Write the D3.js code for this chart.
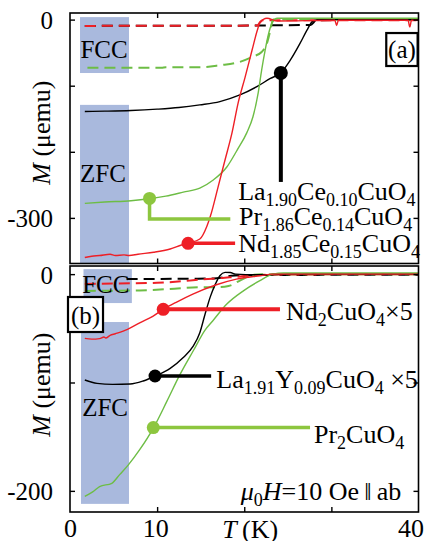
<!DOCTYPE html>
<html>
<head>
<meta charset="utf-8">
<script src="https://cdn.jsdelivr.net/npm/d3@7"></script>
<style>
  body { margin: 0; background: #fff; }
  text { font-family: "Liberation Serif", "Times New Roman", serif; fill: #000; }
</style>
</head>
<body>
<div id="chartPlaceholder"></div>
<script>
// ---- data: [T (K), M (uemu)] ----
// panel (a) : Ce-doped superconductors
const lcceZfc = [[1.7,-139],[4,-138.5],[7,-137.5],[10,-135.5],[12.5,-133],[14.9,-129],[17.2,-124],[19.5,-114],[21.5,-101],[23,-89],[24.2,-80.5],[25.3,-61],[26.4,-36],[27.2,-16],[27.8,-3],[28.4,0],[40,0]];
const lcceFc = [[1.7,-9.5],[21.5,-9],[24,-8.5],[27.6,-8],[28.3,-1],[40,0]];
const pcceZfc = [[1.7,-278],[4,-276],[7,-274],[9.1,-271],[11,-267],[13,-261],[14.9,-255],[16.4,-243],[18,-223],[19.2,-197],[20.3,-171],[21,-147],[21.6,-111],[22,-76],[22.4,-46],[22.8,-21],[23.2,-5],[23.8,2],[40,2]];
const pcceFc = [[2,-73],[10.5,-73],[11,-72],[14.9,-72],[17.2,-69],[19.5,-64],[21,-56],[22,-49],[22.6,-36],[23,-16],[23.3,0],[40,0]];
const ncceZfc = [[1.7,-360],[2.5,-358],[3.4,-357],[4.6,-355],[5.2,-357],[6.2,-356],[6.8,-357],[7.8,-355],[9.6,-352],[11.5,-347],[12.8,-341],[13.6,-338],[14.9,-332],[15.7,-313],[16.1,-298],[17,-253],[17.8,-212],[18.6,-171],[19.3,-126],[20.1,-87],[20.9,-46],[21.5,-16],[21.8,-5],[22.6,2],[23.8,-2],[30.4,-1],[30.6,-9],[30.8,-1],[38.8,-1],[39,-11],[39.2,-1],[40,-1]];
const ncceFc = [[1.7,-9.5],[21.5,-9],[21.8,-4],[22.1,-1],[40,-1]];

// panel (b) : parent compounds
const ncoZfc = [[1.7,-59.3],[2.5,-60],[3.4,-59.5],[3.9,-58],[4.1,-59],[4.6,-56.5],[5.2,-55],[6.6,-51],[8,-45],[9.5,-39],[10.7,-32.5],[12.3,-25.5],[14.1,-18.4],[16.8,-9.8],[19.1,-4.6],[21.8,-1.5],[23.3,0],[40,0]];
const ncoFc = [[1.7,-9],[7,-8.5],[10,-8],[13,-6.5],[15,-5],[17.5,-3.5],[19,-2.5],[22.6,-0.5],[40,0]];
const lycoZfc = [[1.7,-97.7],[3.1,-100.8],[4.9,-101.7],[6.9,-101.4],[8.4,-98.6],[9.8,-94],[11.5,-87],[13,-77],[14.1,-67],[14.9,-54],[15.5,-37],[16.1,-21],[16.7,-9],[17.2,-1.5],[17.8,1.6],[18.4,1.5],[19,0],[22,-0.6],[25,0],[40,0]];
const lycoFc = [[6.5,-4.6],[12,-4.3],[16.5,-4],[17.5,-3],[18.5,-1.5],[20,-1],[40,-0.5]];
const pcoZfc = [[1.7,-205],[2.6,-201],[3.4,-196],[4.8,-193],[5.7,-185],[6.7,-176],[8,-162],[9.6,-141.6],[11.1,-117.7],[12.6,-93],[14.2,-70],[15.5,-51.6],[16.4,-43],[18,-27.6],[19.9,-15.4],[21.8,-6],[23.3,0],[24.5,1],[40,1]];
const pcoFc = [[1.7,-15.5],[8,-15],[12,-13.5],[15,-12],[17,-12],[18.2,-11],[19.5,-6],[20.7,-1.5],[22,0],[40,0]];

// ticks
const tTicks = [10, 20, 30];
const tTickLabels = [0, 10, 40];
const mTicksA = [0, -100, -200, -300];
const mLabelsA = [0, -300];
const mTicksB = [0, -100, -200];
const mLabelsB = [0, -200];

const RED = "#ee1f26", GREEN = "#6dbd45", GREEN_MARK = "#8dc63f", BLUE = "#a9b9dd";

const svg = d3.select("#chartPlaceholder").append("svg")
  .attr("width", 426).attr("height", 541);

const x = d3.scaleLinear().domain([0, 40]).range([70, 418.5]);
const yA = d3.scaleLinear().domain([-369, 10]).range([263.5, 13]);
const yB = d3.scaleLinear().domain([-219.5, 7.5]).range([512, 266]);

const line = (y) => d3.line().x((d) => x(d[0])).y((d) => y(d[1])).curve(d3.curveMonotoneX);

// chemical formula: parts alternate normal | subscript
function formula(sel, parts) {
  parts.split("|").forEach((p, i) => {
    if (i % 2 === 1) {
      sel.append("tspan").attr("font-size", 18).attr("dy", 6).text(p);
    } else {
      sel.append("tspan").attr("dy", i === 0 ? 0 : -6).text(p);
    }
  });
}

function panel(y, cfg) {
  const g = svg.append("g");
  const [t0, t1] = x.domain();
  const [m0, m1] = y.domain();

  // shaded FCC / ZFC bands
  cfg.bands.forEach((b) => {
    g.append("rect")
      .attr("x", x(b.t[0])).attr("width", x(b.t[1]) - x(b.t[0]))
      .attr("y", y(b.m[0])).attr("height", y(b.m[1]) - y(b.m[0]))
      .attr("fill", BLUE);
  });

  // curves
  cfg.curves.forEach((c) => {
    g.append("path").datum(c.data)
      .attr("d", line(y))
      .attr("fill", "none")
      .attr("stroke", c.color)
      .attr("stroke-width", c.dashed ? 2 : 1.4)
      .attr("stroke-dasharray", c.dashed ? "11,6" : null);
  });

  cfg.bands.forEach((b) => {
    g.append("text").attr("x", x(b.textT)).attr("y", y(b.textM))
      .attr("font-size", 25).text(b.label);
  });

  // legend leaders
  cfg.legend.forEach((l) => {
    g.append("path").datum(l.path)
      .attr("d", d3.line().x((d) => x(d[0])).y((d) => y(d[1])))
      .attr("fill", "none").attr("stroke", l.color).attr("stroke-width", l.width || 3.5);
    g.append("circle").attr("cx", x(l.path[0][0])).attr("cy", y(l.path[0][1]))
      .attr("r", l.r || 6.5).attr("fill", l.color);
    const t = g.append("text").attr("x", x(l.label[0])).attr("y", y(l.label[1]))
      .attr("font-size", 26);
    formula(t, l.name);
  });

  // frame
  g.append("rect")
    .attr("x", x(t0)).attr("y", y(m1))
    .attr("width", x(t1) - x(t0)).attr("height", y(m0) - y(m1))
    .attr("fill", "none").attr("stroke", "#000").attr("stroke-width", 1.6);

  // inward ticks on all four sides
  const tk = (axis, tx, ty) => {
    g.append("g").attr("transform", `translate(${tx},${ty})`)
      .call(axis.tickSize(5).tickFormat(""))
      .call((s) => s.select(".domain").remove())
      .selectAll("line").attr("stroke-width", 1.4);
  };
  tk(d3.axisRight(y).tickValues(cfg.mTicks), x(t0), 0);
  tk(d3.axisLeft(y).tickValues(cfg.mTicks), x(t1), 0);
  tk(d3.axisBottom(x).tickValues(tTicks), 0, y(m1));
  tk(d3.axisTop(x).tickValues(tTicks), 0, y(m0));

  // tick labels
  g.append("g").attr("transform", `translate(${x(t0)},0)`)
    .call(d3.axisLeft(y).tickValues(cfg.mLabels).tickSize(0).tickPadding(17).tickFormat((d) => String(d)))
    .call((s) => s.select(".domain").remove())
    .selectAll("text").attr("font-size", 25).attr("font-family", null).attr("dy", "0.36em");

  // y label
  const yl = g.append("text")
    .attr("transform", `translate(50,${y(cfg.labelM)}) rotate(-90)`)
    .attr("text-anchor", "middle").attr("font-size", 26);
  yl.append("tspan").attr("font-style", "italic").text("M");
  yl.append("tspan").text(" (\u03bcemu)");

  // panel tag
  const tag = cfg.tag;
  g.append("rect")
    .attr("x", x(tag.t[0])).attr("width", x(tag.t[1]) - x(tag.t[0]))
    .attr("y", y(tag.m[0])).attr("height", y(tag.m[1]) - y(tag.m[0]))
    .attr("fill", "#fff").attr("stroke", "#000").attr("stroke-width", 2.2);
  g.append("text").attr("x", (x(tag.t[0]) + x(tag.t[1])) / 2).attr("y", y(tag.textM))
    .attr("text-anchor", "middle").attr("font-size", 25).text(tag.label);

  return g;
}

panel(yA, {
  mTicks: mTicksA, mLabels: mLabelsA, labelM: -171,
  bands: [
    { t: [1.15, 6.77], m: [3.8, -80.8], label: "FCC", textT: 1.2, textM: -58 },
    { t: [1.15, 6.77], m: [-129, -369], label: "ZFC", textT: 1.15, textM: -245 },
  ],
  curves: [
    { data: lcceFc, color: "#000", dashed: true },
    { data: ncceFc, color: RED, dashed: true },
    { data: pcceFc, color: GREEN, dashed: true },
    { data: lcceZfc, color: "#000" },
    { data: pcceZfc, color: GREEN },
    { data: ncceZfc, color: RED },
  ],
  legend: [
    { name: "La|1.90|Ce|0.10|CuO|4", color: "#000", path: [[24.2, -80.8], [24.2, -245.6]], label: [19.3, -272.7], r: 7, width: 4 },
    { name: "Pr|1.86|Ce|0.14|CuO|4", color: GREEN_MARK, path: [[9.13, -270.5], [9.13, -301.5], [18.4, -301.5]], label: [19.4, -310.5] },
    { name: "Nd|1.85|Ce|0.15|CuO|4", color: RED, path: [[13.55, -338.5], [18.95, -338.5]], label: [19.3, -352] },
  ],
  tag: { t: [36.3, 39.9], m: [-20.3, -70.2], textM: -58, label: "(a)" },
});

const gb = panel(yB, {
  mTicks: mTicksB, mLabels: mLabelsB, labelM: -102,
  bands: [
    { t: [1.55, 7.1], m: [4.6, -26.7], label: "FCC", textT: 1.4, textM: -17.5 },
    { t: [1.26, 6.77], m: [-44.2, -212], label: "ZFC", textT: 1.4, textM: -131 },
  ],
  curves: [
    { data: lycoFc, color: "#000", dashed: true },
    { data: ncoFc, color: RED, dashed: true },
    { data: pcoFc, color: GREEN, dashed: true },
    { data: lycoZfc, color: "#000" },
    { data: pcoZfc, color: GREEN },
    { data: ncoZfc, color: RED },
  ],
  legend: [
    { name: "Nd|2|CuO|4|\u00d75", color: RED, path: [[10.7, -32.5], [24.1, -32.5]], label: [24.8, -42.4], width: 4 },
    { name: "La|1.91|Y|0.09|CuO|4| \u00d75", color: "#000", path: [[9.76, -94], [16.2, -94]], label: [16.8, -105] },
    { name: "Pr|2|CuO|4", color: GREEN_MARK, path: [[9.56, -141.6], [27.55, -141.6]], label: [28, -155.8] },
  ],
  tag: { t: [-0.23, 3.79], m: [-21.1, -53.4], textM: -46, label: "(b)" },
});

// field annotation
const fld = gb.append("text").attr("x", x(19.6)).attr("y", yB(-208)).attr("font-size", 26);
fld.append("tspan").attr("font-style", "italic").text("\u03bc");
fld.append("tspan").attr("font-size", 18).attr("dy", 6).text("0");
fld.append("tspan").attr("dy", -6).attr("font-style", "italic").text("H");
fld.append("tspan").text("=10 Oe\u2009\u2016\u2009ab");

// temperature axis labels (bottom panel only)
const xa = svg.append("g").attr("transform", `translate(0,${yB.range()[0]})`)
  .call(d3.axisBottom(x).tickValues(tTickLabels).tickSize(0).tickPadding(7))
  .call((s) => s.select(".domain").remove());
xa.selectAll("text").attr("font-size", 26).attr("font-family", null)
  .attr("dx", (d) => (d === 40 ? -8 : d === 10 ? -2 : 0));

const tl = svg.append("text").attr("x", x(20) + 6).attr("y", yB.range()[0] + 26)
  .attr("text-anchor", "middle").attr("font-size", 26);
tl.append("tspan").attr("font-style", "italic").text("T");
tl.append("tspan").text("\u2009(K)");
</script>
</body>
</html>
